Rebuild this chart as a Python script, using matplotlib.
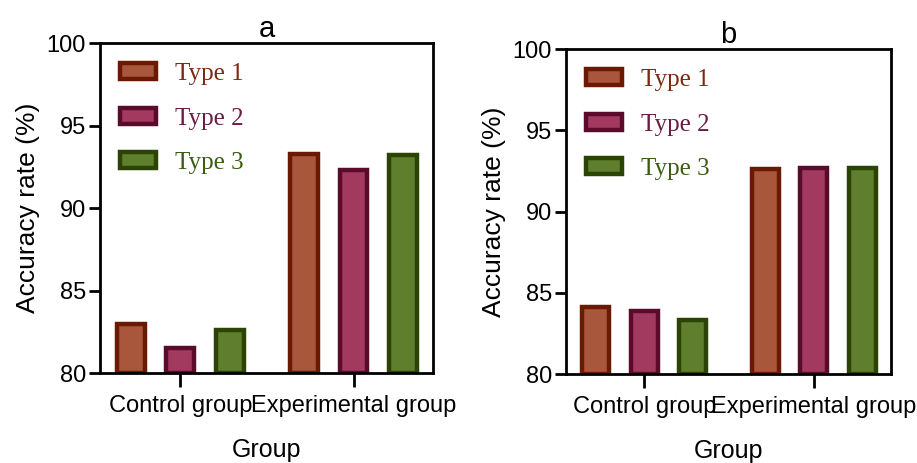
import numpy as np
import matplotlib.pyplot as plt

# %%
# data

groups = ["Control group", "Experimental group"]
types = ["Type 1", "Type 2", "Type 3"]

acc_a = {"Type 1": [83.0, 93.3],
         "Type 2": [81.5, 92.3],
         "Type 3": [82.6, 93.2]}
acc_b = {"Type 1": [84.1, 92.6],
         "Type 2": [83.9, 92.7],
         "Type 3": [83.3, 92.7]}

face_colors = ["#a8573c", "#a23a60", "#5f7f2e"]
edge_colors = ["#6a1a02", "#5a0b2c", "#2b4303"]
text_colors = ["#7a2a12", "#6a1c44", "#3c5c14"]

# %%

plt.rcParams['font.family'] = ['Liberation Sans', 'DejaVu Sans']

fig = plt.figure(figsize=(9.17, 4.63), dpi=100)
ax_a = fig.add_axes([0.109, 0.194, 0.363, 0.713])
ax_b = fig.add_axes([0.617, 0.192, 0.355, 0.702])

group_pos = np.array([0.0, 3.5])
bar_w = 0.56

for ax, data, title in [(ax_a, acc_a, "a"), (ax_b, acc_b, "b")]:
    for i, t in enumerate(types):
        ax.bar(group_pos + (i - 1), np.array(data[t]) - 80, bar_w, bottom=80,
               color=face_colors[i], edgecolor=edge_colors[i], linewidth=3.2,
               label=t)
    ax.set_ylim(80, 100)
    ax.set_xlim(-1.62, 5.1)
    ax.set_yticks([80, 85, 90, 95, 100])
    ax.set_xticks(group_pos)
    ax.set_xticklabels(groups)
    ax.tick_params(axis='y', labelsize=17, width=2.0, length=8, pad=2)
    ax.tick_params(axis='x', labelsize=17, width=2.0, length=10, pad=6)
    for s in ax.spines.values():
        s.set_linewidth(2.0)
    ax.set_title(title, fontsize=21, pad=3)
    ax.set_ylabel("Accuracy rate (%)", fontsize=19, labelpad=5)
    ax.set_xlabel("Group", fontsize=18, labelpad=15)
    leg = ax.legend(loc='upper left', frameon=False,
                    prop={'family': 'Liberation Serif', 'size': 18},
                    handlelength=1.45, handleheight=0.6, handletextpad=0.75,
                    labelspacing=0.9, borderaxespad=0.4)
    for txt, c in zip(leg.get_texts(), text_colors):
        txt.set_color(c)

fig.savefig("out.png", dpi=100)
